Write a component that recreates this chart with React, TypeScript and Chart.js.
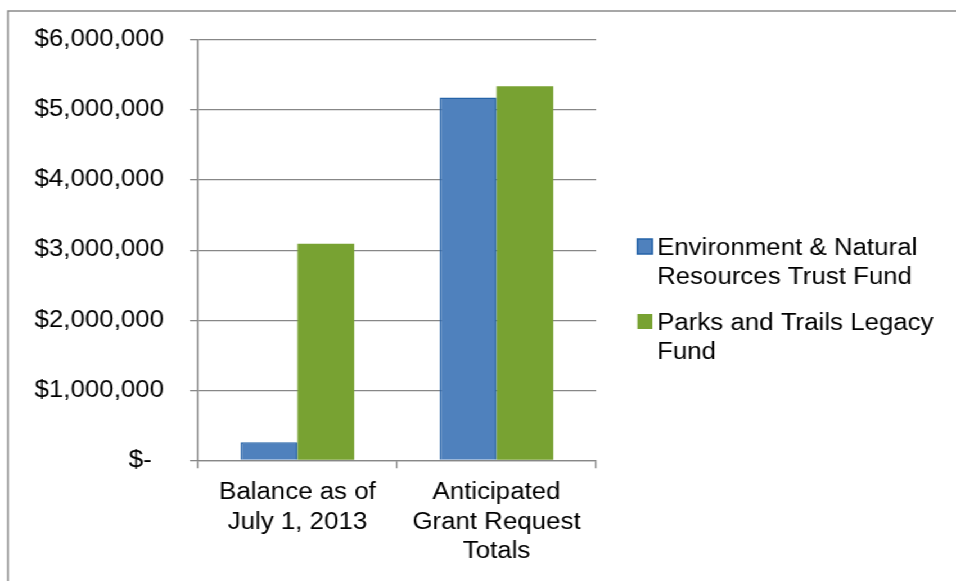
import { useEffect, useRef } from "react";
import { Chart, registerables } from "chart.js";

Chart.register(...registerables);

// ---- data ----
const categories: string[][] = [
  ["Balance as of", "July 1, 2013"],
  ["Anticipated", "Grant Request", "Totals"],
];
const seriesNames: string[] = [
  "Environment & Natural Resources Trust Fund",
  "Parks and Trails Legacy Fund",
];
const legendLines: string[][] = [
  ["Environment & Natural", "Resources Trust Fund"],
  ["Parks and Trails Legacy", "Fund"],
];
const enrtfValues: number[] = [257000, 5180000];
const ptlfValues: number[] = [3090000, 5340000];
const yMin = 0;
const yMax = 6000000;
const yStep = 1000000;

// ---- style ----
const FONT = "'Liberation Sans', Arial, sans-serif";
const FONT_SIZE = 23;
const CANVAS_W = 850;
const CANVAS_H = 581;
const STRETCH = 956 / CANVAS_W;
const GRID = "#878787";
const BLUE = "#4F81BD";
const BLUE_EDGE = "#2563A8";
const GREEN = "#78A232";
const GREEN_EDGE = "#C9DBA8";

function formatMoney(v: number): string {
  if (v === 0) return "$- \u2009";
  return "$" + String(Math.round(v)).replace(/\B(?=(\d{3})+(?!\d))/g, ",");
}

const framePlugin = {
  id: "frame",
  beforeDraw(chart: any) {
    const ctx = chart.ctx;
    ctx.save();
    ctx.fillStyle = "#fff";
    ctx.fillRect(0, 0, chart.width, chart.height);
    ctx.strokeStyle = "#8a8a8a";
    ctx.lineWidth = 1.5;
    ctx.strokeRect(7.1, 11, chart.width + 50, chart.height + 50);
    ctx.restore();
  },
};

const legendPlugin = {
  id: "sideLegend",
  afterDraw(chart: any) {
    const ctx = chart.ctx;
    const area = chart.chartArea;
    ctx.save();
    ctx.font = `${FONT_SIZE}px ${FONT}`;
    ctx.textBaseline = "alphabetic";
    ctx.textAlign = "left";
    const boxX = area.right + 36.7;
    const textX = area.right + 54.2;
    let y = 255;
    chart.data.datasets.forEach((ds: any, i: number) => {
      ctx.fillStyle = ds.backgroundColor;
      ctx.fillRect(boxX, y - 16, 13.3, 15);
      if (ds.borderWidth > 0 && i === 0) {
        ctx.strokeStyle = ds.borderColor;
        ctx.lineWidth = 1.5;
        ctx.strokeRect(boxX, y - 16, 13.3, 15);
      }
      ctx.fillStyle = "#000";
      legendLines[i].forEach((line, j) => ctx.fillText(line, textX, y + j * 29.3));
      y += 75;
    });
    ctx.restore();
  },
};

export default function App() {
  const ref = useRef<HTMLCanvasElement | null>(null);

  useEffect(() => {
    if (!ref.current) return;
    const chart = new Chart(ref.current, {
      type: "bar",
      data: {
        labels: categories,
        datasets: [
          {
            label: seriesNames[0],
            data: enrtfValues,
            backgroundColor: BLUE,
            borderColor: BLUE_EDGE,
            borderWidth: 1.5,
          },
          {
            label: seriesNames[1],
            data: ptlfValues,
            backgroundColor: GREEN,
            borderColor: GREEN_EDGE,
            borderWidth: 0,
          },
        ],
      },
      options: {
        animation: false,
        responsive: false,
        devicePixelRatio: 1,
        events: [],
        layout: { padding: { top: 40, right: 320, bottom: 0, left: 0 } },
        datasets: { bar: { categoryPercentage: 0.57, barPercentage: 1.0 } },
        plugins: { legend: { display: false }, tooltip: { enabled: false }, title: { display: false } },
        scales: {
          x: {
            offset: true,
            grid: {
              display: true,
              offset: true,
              drawOnChartArea: false,
              drawTicks: true,
              tickLength: 8,
              color: GRID,
              lineWidth: 1.3,
            },
            border: { display: true, color: GRID, width: 1.3 },
            ticks: {
              color: "#000",
              padding: 10,
              maxRotation: 0,
              autoSkip: false,
              font: { family: FONT, size: FONT_SIZE, lineHeight: 1.28 },
            },
            afterFit(scale: any) {
              scale.height = CANVAS_H - 460.3;
            },
          },
          y: {
            min: yMin,
            max: yMax,
            grid: {
              display: true,
              drawOnChartArea: true,
              drawTicks: true,
              tickLength: 7.1,
              color: GRID,
              lineWidth: 1.3,
            },
            border: { display: true, color: GRID, width: 1.3 },
            ticks: {
              stepSize: yStep,
              color: "#000",
              padding: 23,
              font: { family: FONT, size: FONT_SIZE },
              callback: (v: any) => formatMoney(Number(v)),
            },
            afterFit(scale: any) {
              scale.width = 176;
            },
          },
        },
      },
      plugins: [framePlugin, legendPlugin],
    });
    return () => chart.destroy();
  }, []);

  return (
    <div
      style={{
        position: "absolute",
        left: 0,
        top: 0,
        width: CANVAS_W,
        height: CANVAS_H,
        transform: `scaleX(${STRETCH})`,
        transformOrigin: "0 0",
        background: "#fff",
      }}
    >
      <canvas ref={ref} width={CANVAS_W} height={CANVAS_H} style={{ display: "block", width: CANVAS_W, height: CANVAS_H }} />
    </div>
  );
}
